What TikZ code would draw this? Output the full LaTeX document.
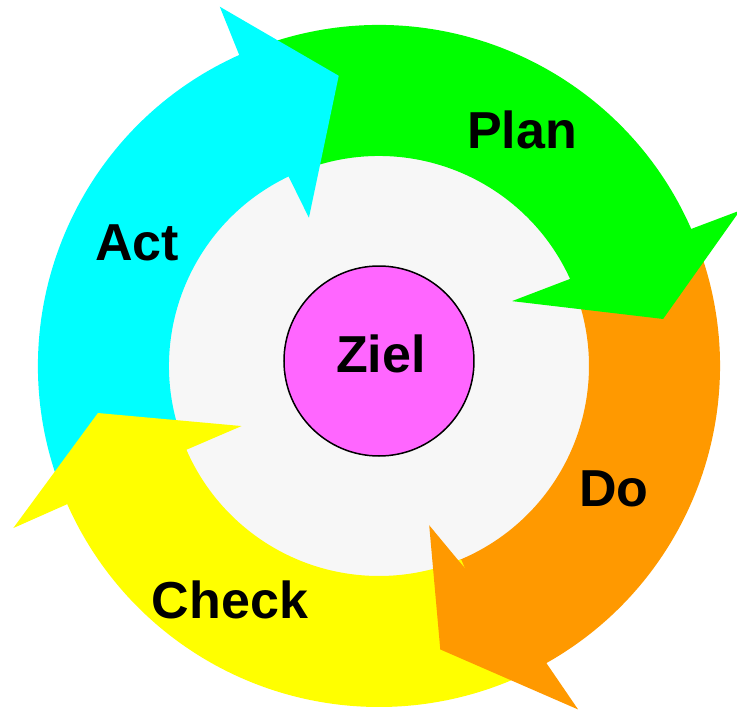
\documentclass[tikz,border=0pt]{standalone}
\usepackage{fontspec}
\setmainfont{Liberation Sans}

\definecolor{actcyan}{HTML}{00FFFF}
\definecolor{plangreen}{HTML}{00FF00}
\definecolor{doorange}{HTML}{FF9900}
\definecolor{checkyellow}{HTML}{FFFF00}
\definecolor{zielpink}{HTML}{FF66FF}
\definecolor{innergray}{HTML}{F7F7F7}

\begin{document}
\begin{tikzpicture}[x=1pt, y=1pt, line join=miter,
    phase/.style={font=\fontsize{52}{60}\selectfont\bfseries, inner sep=0pt},
    zielnode/.style={circle, draw=black, line width=1.5pt, fill=zielpink,
      minimum size=190pt, inner sep=0pt}]
  \useasboundingbox (-379,-344) rectangle (358,366);

  %--- inner disk ----------------------------------------------------------
  \fill[innergray] (0,0) circle (212pt);

  %--- ring bands (tail under the previous head) ---------------------------
  \foreach \col/\from/\ob/\ib in {actcyan/201/112.2/113.5,
      plangreen/111/21.7/22.5, doorange/21/-62.6/-69.8,
      checkyellow/293/201.9/201.5}
    \fill[\col] (\from:341) arc[start angle=\from, end angle=\ob, radius=341pt]
      -- (\ib:210) arc[start angle=\ib, end angle=\from, radius=210pt] -- cycle;

  %--- arrow heads ---------------------------------------------------------
  \foreach \col/\ob/\ib/\ow/\owr/\tip/\tipr/\iw/\iwr in {
      actcyan/114.2/115.5/113.9/393/97.9/293/115.3/164,
      plangreen/23.7/24.5/23.3/393/9.4/288/26.0/148,
      doorange/-60.6/-67.8/-59.9/397/-77.8/290/-72.5/167,
      checkyellow/203.9/203.5/203.9/400/189.5/285/203.6/150}
    \fill[\col] (\ob:341) -- (\ow:\owr) -- (\tip:\tipr) -- (\iw:\iwr)
      -- (\ib:210) -- cycle;

  %--- labels --------------------------------------------------------------
  \node[phase] (plan) at (143,236) {Plan};
  \node[phase] (do) at (235,-123) {Do};
  \node[phase] (check) at (-149,-234) {Check};
  \node[phase] (act) at (-242,123) {Act};

  % goal in the middle
  \node[zielnode] (ziel) at (0,5) {};
  \node[phase] (zieltext) at (2,12) {Ziel};
\end{tikzpicture}
\end{document}
